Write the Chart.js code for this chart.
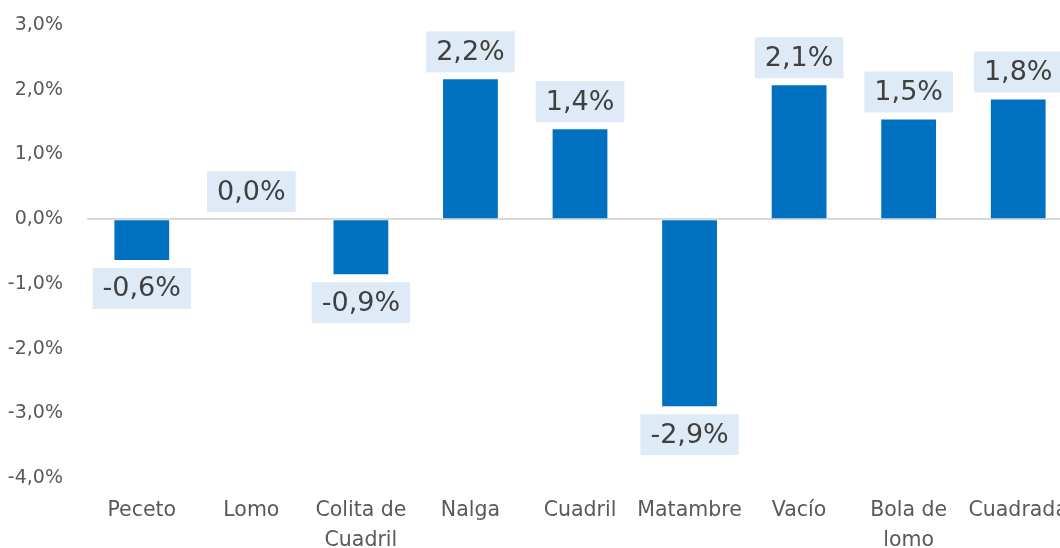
<!DOCTYPE html>
<html>
<head>
<meta charset="utf-8">
<script src="https://cdn.jsdelivr.net/npm/chart.js@4.4.1/dist/chart.umd.min.js"></script>
<style>
  html, body { margin: 0; padding: 0; background: #fff; overflow: hidden; }
  canvas { display: block; }
</style>
</head>
<body>
<canvas id="chart" width="1073" height="548"></canvas>
<script>
// categories and values (% change)
const cortes = ['Peceto', 'Lomo', ['Colita de', 'Cuadril'], 'Nalga', 'Cuadril', 'Matambre', 'Vacío', ['Bola de', 'lomo'], 'Cuadrada'];
const variacion = [-0.63, 0.0, -0.85, 2.16, 1.39, -2.89, 2.07, 1.54, 1.85];
const etiquetas = ['-0,6%', '0,0%', '-0,9%', '2,2%', '1,4%', '-2,9%', '2,1%', '1,5%', '1,8%'];

const fontName = "'DejaVu Sans', Verdana, sans-serif";

// draws the light blue label boxes like the excel data labels
const labelBoxes = {
    id: 'labelBoxes',
    afterDatasetsDraw(chart) {
        const ctx = chart.ctx;
        const meta = chart.getDatasetMeta(0);
        ctx.save();
        ctx.font = '27px ' + fontName;
        ctx.textAlign = 'center';
        ctx.textBaseline = 'middle';
        meta.data.forEach((bar, i) => {
            const txt = etiquetas[i];
            const w = ctx.measureText(txt).width + 20;
            const h = 41;
            let top;
            if (variacion[i] >= 0) {
                top = bar.y - 7 - h;
            } else {
                top = bar.y + 8;
            }
            ctx.fillStyle = '#DEEAF6';
            ctx.fillRect(bar.x - w / 2, top, w, h);
            ctx.fillStyle = '#404040';
            ctx.fillText(txt, bar.x, top + h / 2 + 1);
        });
        ctx.restore();
    }
};

new Chart(document.getElementById('chart'), {
    type: 'bar',
    data: {
        labels: cortes,
        datasets: [{
            data: variacion,
            backgroundColor: '#0070C0',
            borderWidth: 0,
            barPercentage: 0.5,
            categoryPercentage: 1.0
        }]
    },
    options: {
        responsive: false,
        animation: false,
        layout: { padding: { top: 25, left: 0, right: 0, bottom: 0 } },
        plugins: {
            legend: { display: false },
            tooltip: { enabled: false }
        },
        scales: {
            x: {
                grid: { display: false },
                border: { display: false },
                afterFit: s => {
                    s.height = 70;
                    s.paddingLeft = 0;
                    s.paddingRight = 0;
                },
                ticks: {
                    color: '#595959',
                    font: { family: fontName, size: 20.5, lineHeight: 1.45 },
                    maxRotation: 0,
                    autoSkip: false,
                    padding: 10
                }
            },
            y: {
                min: -4,
                max: 3,
                border: { display: false },
                afterFit: s => {
                    s.width = 87;
                    s.paddingTop = 0;
                    s.paddingBottom = 0;
                },
                grid: {
                    drawTicks: false,
                    lineWidth: 2,
                    color: c => c.tick.value === 0 ? '#D9D9D9' : 'rgba(0,0,0,0)'
                },
                ticks: {
                    stepSize: 1,
                    padding: 24,
                    color: '#595959',
                    font: { family: fontName, size: 19 },
                    callback: v => v.toFixed(1).replace('.', ',') + '%'
                }
            }
        }
    },
    plugins: [labelBoxes]
});
</script>
</body>
</html>
